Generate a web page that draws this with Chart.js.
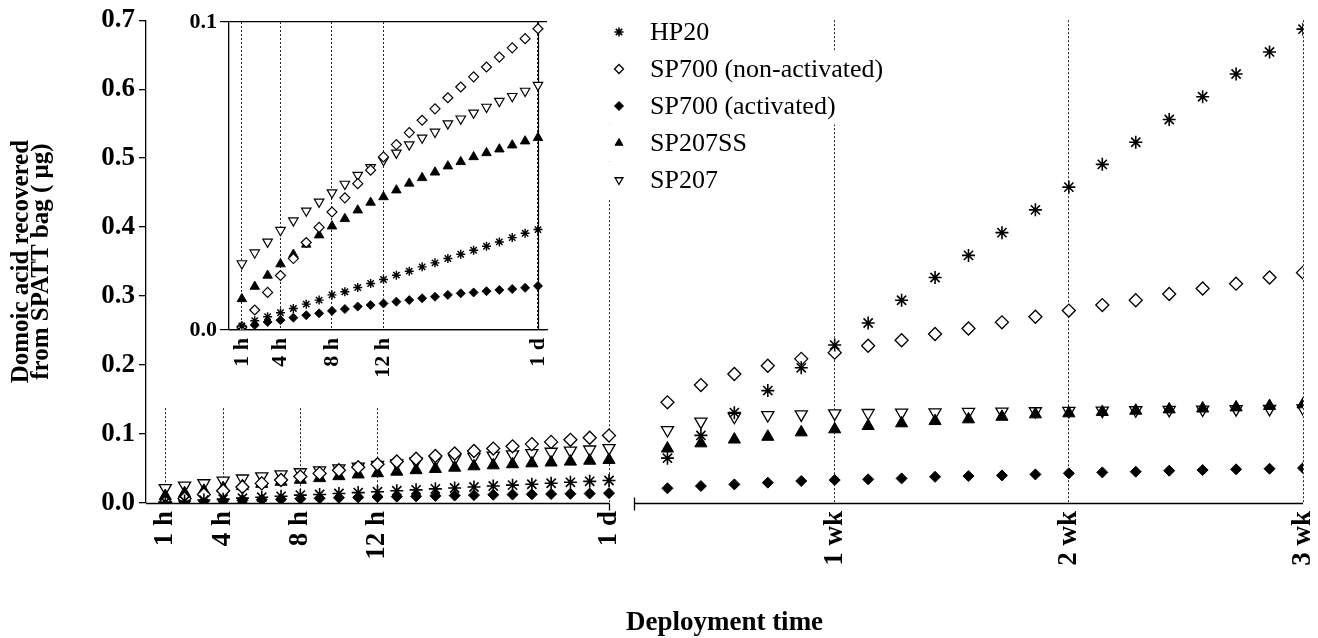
<!DOCTYPE html>
<html>
<head>
<meta charset="utf-8">
<script src="https://cdn.jsdelivr.net/npm/chart.js@4.4.1/dist/chart.umd.min.js"></script>
<style>
  body { margin: 0; background: #fff; }
  #wrap { position: relative; width: 1318px; height: 638px; }
  #main { position: absolute; left: 0; top: 0; }
  #inset { position: absolute; left: 150px; top: 0; background: #fff; }
</style>
</head>
<body>
<div id="wrap">
  <canvas id="main" width="1318" height="638"></canvas>
  <canvas id="inset" width="445" height="407"></canvas>
</div>
<script>
// sampling times
const hours = [1, 2, 3, 4, 5, 6, 7, 8, 9, 10, 11, 12, 13, 14, 15, 16, 17, 18, 19, 20, 21, 22, 23, 24];
const days = [2, 3, 4, 5, 6, 7, 8, 9, 10, 11, 12, 13, 14, 15, 16, 17, 18, 19, 20, 21];

// domoic acid (ug), hourly samples over the first day
const hp20Hours = [0.0013, 0.0030, 0.0043, 0.0056, 0.0070, 0.0084, 0.0097, 0.0114, 0.0124, 0.0138, 0.0151, 0.0164, 0.0178, 0.0191, 0.0205, 0.0218, 0.0232, 0.0246, 0.0259, 0.0272, 0.0286, 0.0300, 0.0314, 0.0326];
const sp700nHours = [0.0010, 0.0065, 0.0122, 0.0177, 0.0232, 0.0284, 0.0333, 0.0383, 0.0429, 0.0475, 0.0519, 0.0562, 0.0602, 0.0641, 0.0681, 0.0718, 0.0754, 0.0789, 0.0822, 0.0854, 0.0886, 0.0916, 0.0946, 0.0978];
const sp700aHours = [0.0005, 0.0016, 0.0026, 0.0032, 0.0040, 0.0048, 0.0054, 0.0062, 0.0068, 0.0076, 0.0081, 0.0086, 0.0092, 0.0097, 0.0103, 0.0108, 0.0114, 0.0119, 0.0122, 0.0126, 0.0130, 0.0133, 0.0137, 0.0143];
const sp207ssHours = [0.0101, 0.0141, 0.0177, 0.0214, 0.0245, 0.0278, 0.0308, 0.0337, 0.0361, 0.0389, 0.0414, 0.0432, 0.0454, 0.0476, 0.0494, 0.0512, 0.0532, 0.0546, 0.0562, 0.0575, 0.0587, 0.0600, 0.0613, 0.0624];
const sp207Hours = [0.0216, 0.0251, 0.0286, 0.0324, 0.0355, 0.0387, 0.0416, 0.0446, 0.0474, 0.0503, 0.0528, 0.0551, 0.0575, 0.0602, 0.0624, 0.0643, 0.0670, 0.0686, 0.0705, 0.0724, 0.0743, 0.0759, 0.0776, 0.0795];

// daily samples, day 2 to day 21
const hp20Days = [0.065, 0.098, 0.131, 0.163, 0.196, 0.229, 0.261, 0.294, 0.327, 0.359, 0.392, 0.425, 0.458, 0.491, 0.523, 0.556, 0.589, 0.622, 0.654, 0.687];
const sp700nDays = [0.146, 0.171, 0.187, 0.199, 0.209, 0.218, 0.228, 0.236, 0.245, 0.253, 0.262, 0.270, 0.279, 0.287, 0.294, 0.303, 0.311, 0.318, 0.327, 0.334];
const sp700aDays = [0.0213, 0.0246, 0.0270, 0.0295, 0.0319, 0.0333, 0.0343, 0.0357, 0.0380, 0.0390, 0.0400, 0.0415, 0.0430, 0.0444, 0.0454, 0.0468, 0.0478, 0.0488, 0.0497, 0.0507];
const sp207ssDays = [0.079, 0.0865, 0.092, 0.096, 0.1024, 0.1068, 0.1116, 0.1155, 0.1188, 0.1213, 0.125, 0.1285, 0.130, 0.132, 0.1338, 0.1357, 0.137, 0.1386, 0.1406, 0.143];
const sp207Days = [0.1058, 0.118, 0.125, 0.1275, 0.1285, 0.130, 0.1305, 0.131, 0.1315, 0.132, 0.1325, 0.133, 0.1335, 0.134, 0.1345, 0.135, 0.1355, 0.136, 0.1365, 0.137];

// axis ticks (x values in hours)
const mainTickHours = [1, 4, 8, 12, 24, 168, 336, 504];
const mainTickLabels = ['1 h', '4 h', '8 h', '12 h', '1 d', '1 wk', '2 wk', '3 wk'];
const insetTickHours = [1, 4, 8, 12, 24];
const insetTickLabels = ['1 h', '4 h', '8 h', '12 h', '1 d'];
const yTicks = [0, 0.1, 0.2, 0.3, 0.4, 0.5, 0.6, 0.7];

Chart.defaults.font.family = "'Liberation Serif', 'Times New Roman', serif";
Chart.defaults.color = '#000';

// Linear scale with a break: [min, split] on the left part, [split, max] on the right part
class BrokenScale extends Chart.LinearScale {
    getPixelForValue(value) {
        const o = this.options;
        const leftW = this.width * o.leftShare;
        const gapW = this.width * o.gapShare;
        if (value <= o.split) {
            return this.left + (value - this.min) / (o.split - this.min) * leftW;
        }
        const rightW = this.width - leftW - gapW;
        return this.left + leftW + gapW + (value - o.split) / (this.max - o.split) * rightW;
    }
    getValueForPixel(pixel) {
        const o = this.options;
        const leftW = this.width * o.leftShare;
        const gapW = this.width * o.gapShare;
        const p = pixel - this.left;
        if (p <= leftW) {
            return this.min + p / leftW * (o.split - this.min);
        }
        const rightW = this.width - leftW - gapW;
        return o.split + (p - leftW - gapW) / rightW * (this.max - o.split);
    }
}
BrokenScale.id = 'broken';
BrokenScale.defaults = Chart.LinearScale.defaults;
Chart.register(BrokenScale);

// axis line drawn in two pieces, with the break ticks
const brokenAxisLine = {
    id: 'brokenAxisLine',
    beforeDatasetsDraw(chart) {
        const s = chart.scales.x;
        const o = s.options;
        const ctx = chart.ctx;
        const y = Math.round(chart.chartArea.bottom) + 0.5;
        const leftEnd = Math.round(s.left + s.width * o.leftShare) + 0.5;
        const rightStart = Math.round(s.left + s.width * (o.leftShare + o.gapShare)) + 0.5;
        ctx.save();
        ctx.strokeStyle = '#000';
        ctx.lineWidth = 1.3;
        ctx.beginPath();
        ctx.moveTo(s.left, y);
        ctx.lineTo(leftEnd, y);
        ctx.moveTo(leftEnd, y);
        ctx.lineTo(leftEnd, y + 7);
        ctx.moveTo(rightStart, y);
        ctx.lineTo(s.right, y);
        ctx.moveTo(rightStart, y - 6);
        ctx.lineTo(rightStart, y + 7);
        ctx.stroke();
        ctx.restore();
    }
};

// legend drawn as rows inside the plot, each row on a white box
const rowLegend = {
    id: 'rowLegend',
    afterDatasetsDraw(chart, args, opts) {
        const ctx = chart.ctx;
        ctx.save();
        ctx.font = opts.font;
        ctx.textBaseline = 'middle';
        ctx.textAlign = 'left';
        chart.data.datasets.forEach((ds, i) => {
            const y = opts.firstY + i * opts.rowHeight;
            const w = ctx.measureText(ds.label).width;
            ctx.fillStyle = '#fff';
            ctx.fillRect(opts.boxLeft, y - opts.rowHeight / 2, opts.textX + w + 3 - opts.boxLeft, opts.rowHeight);
            ctx.fillStyle = ds.pointBackgroundColor;
            ctx.strokeStyle = '#000';
            ctx.lineWidth = ds.pointBorderWidth;
            Chart.helpers.drawPoint(ctx, {
                pointStyle: ds.pointStyle,
                rotation: ds.pointRotation || 0,
                radius: opts.symbolRadius,
                borderWidth: ds.pointBorderWidth
            }, opts.symbolX, y);
            ctx.fillStyle = '#000';
            ctx.fillText(ds.label, opts.textX, y + 1);
        });
        ctx.restore();
    }
};

// solid line for the last tick of the inset
const insetEndLine = {
    id: 'insetEndLine',
    beforeDatasetsDraw(chart) {
        const s = chart.scales.x;
        const x = Math.round(s.getPixelForValue(24)) + 0.5;
        const ctx = chart.ctx;
        ctx.save();
        ctx.strokeStyle = '#000';
        ctx.lineWidth = 1.2;
        ctx.beginPath();
        ctx.moveTo(x, chart.chartArea.top);
        ctx.lineTo(x, chart.chartArea.bottom);
        ctx.stroke();
        ctx.restore();
    }
};

const seriesStyles = [
    { label: 'HP20', hoursY: hp20Hours, daysY: hp20Days, pointStyle: 'star', fill: '#000', bw: 1.6, rot: 0, r: 6.5, ir: 4.5 },
    { label: 'SP700 (non-activated)', hoursY: sp700nHours, daysY: sp700nDays, pointStyle: 'rectRot', fill: '#fff', bw: 1.3, rot: 0, r: 6.5, ir: 5 },
    { label: 'SP700 (activated)', hoursY: sp700aHours, daysY: sp700aDays, pointStyle: 'rectRot', fill: '#000', bw: 1, rot: 0, r: 5.5, ir: 4.5 },
    { label: 'SP207SS', hoursY: sp207ssHours, daysY: sp207ssDays, pointStyle: 'triangle', fill: '#000', bw: 1, rot: 0, r: 7, ir: 5.5 },
    { label: 'SP207', hoursY: sp207Hours, daysY: sp207Days, pointStyle: 'triangle', fill: '#fff', bw: 1.3, rot: 180, r: 7, ir: 5.5 }
];

const mainDatasets = seriesStyles.map(s => ({
    label: s.label,
    data: hours.map((h, i) => ({ x: h, y: s.hoursY[i] }))
        .concat(days.map((d, i) => ({ x: d * 24, y: s.daysY[i] }))),
    pointStyle: s.pointStyle,
    pointRotation: s.rot,
    pointRadius: s.r,
    pointBackgroundColor: s.fill,
    pointBorderColor: '#000',
    pointBorderWidth: s.bw,
    showLine: false
}));

const insetDatasets = seriesStyles.map(s => ({
    label: s.label,
    data: hours.map((h, i) => ({ x: h, y: s.hoursY[i] })),
    pointStyle: s.pointStyle,
    pointRotation: s.rot,
    pointRadius: s.ir,
    pointBackgroundColor: s.fill,
    pointBorderColor: '#000',
    pointBorderWidth: s.bw * 0.9,
    showLine: false
}));

new Chart(document.getElementById('main').getContext('2d'), {
    type: 'scatter',
    data: { datasets: mainDatasets },
    plugins: [brokenAxisLine, rowLegend],
    options: {
        responsive: false,
        animation: false,
        events: [],
        layout: { padding: { top: 20, right: 15, left: 0, bottom: 0 } },
        scales: {
            x: {
                type: 'broken',
                min: 0,
                max: 504,
                split: 24,
                leftShare: 463 / 1157,
                gapShare: 25 / 1157,
                afterBuildTicks: (scale) => {
                    scale.ticks = mainTickHours.map(v => ({ value: v }));
                },
                afterFit: (scale) => {
                    scale.height = 135;
                    scale.paddingLeft = 0;
                    scale.paddingRight = 0;
                },
                ticks: {
                    autoSkip: false,
                    minRotation: 90,
                    maxRotation: 90,
                    padding: 8,
                    font: { size: 27, weight: 'bold' },
                    callback: (value, i) => mainTickLabels[i]
                },
                grid: {
                    drawOnChartArea: true,
                    drawTicks: false,
                    color: '#222',
                    lineWidth: 1
                },
                border: { display: false, dash: [2, 2] },
                title: {
                    display: true,
                    text: 'Deployment time',
                    font: { size: 27, weight: 'bold', lineHeight: 1 },
                    padding: { top: 0, bottom: 1 }
                }
            },
            y: {
                min: 0,
                max: 0.7,
                afterBuildTicks: (scale) => {
                    scale.ticks = yTicks.map(v => ({ value: v }));
                },
                afterFit: (scale) => { scale.width = 146; },
                ticks: {
                    padding: 4,
                    font: { size: 27, weight: 'bold' },
                    callback: (value) => value.toFixed(1)
                },
                grid: {
                    drawOnChartArea: false,
                    drawTicks: true,
                    tickLength: 7,
                    color: '#000',
                    lineWidth: 1.3
                },
                border: { display: true, color: '#000', width: 1.3 },
                title: {
                    display: true,
                    text: ['Domoic acid recovered', 'from SPATT bag ( \u03bcg)'],
                    font: { size: 25, weight: 'bold', lineHeight: 0.8 },
                    padding: { top: 12, bottom: 0 }
                }
            }
        },
        plugins: {
            legend: { display: false },
            tooltip: { enabled: false },
            rowLegend: {
                font: "26px 'Liberation Serif', serif",
                boxLeft: 600,
                symbolX: 619,
                textX: 650,
                firstY: 32,
                rowHeight: 37,
                symbolRadius: 4.5
            }
        }
    }
});

new Chart(document.getElementById('inset').getContext('2d'), {
    type: 'scatter',
    data: { datasets: insetDatasets },
    plugins: [insetEndLine],
    options: {
        responsive: false,
        animation: false,
        events: [],
        layout: { padding: { top: 22, right: 48, left: 0, bottom: 0 } },
        scales: {
            x: {
                type: 'linear',
                min: 0,
                max: 24.7,
                afterBuildTicks: (scale) => {
                    scale.ticks = insetTickHours.map(v => ({ value: v }));
                },
                afterFit: (scale) => {
                    scale.height = 77;
                    scale.paddingLeft = 0;
                    scale.paddingRight = 0;
                },
                ticks: {
                    autoSkip: false,
                    minRotation: 90,
                    maxRotation: 90,
                    padding: 8,
                    font: { size: 22, weight: 'bold' },
                    callback: (value, i) => insetTickLabels[i]
                },
                grid: {
                    drawOnChartArea: true,
                    drawTicks: false,
                    color: '#222',
                    lineWidth: 1
                },
                border: { display: true, color: '#000', width: 1.3, dash: [2, 2] }
            },
            y: {
                min: 0,
                max: 0.1,
                afterBuildTicks: (scale) => {
                    scale.ticks = [0, 0.1].map(v => ({ value: v }));
                },
                afterFit: (scale) => { scale.width = 79; },
                ticks: {
                    padding: 3,
                    font: { size: 22, weight: 'bold' },
                    callback: (value) => value.toFixed(1)
                },
                grid: {
                    drawOnChartArea: true,
                    drawTicks: true,
                    tickLength: 9,
                    color: '#000',
                    lineWidth: 1.2
                },
                border: { display: true, color: '#000', width: 1.3 }
            }
        },
        plugins: {
            legend: { display: false },
            tooltip: { enabled: false }
        }
    }
});
</script>
</body>
</html>
